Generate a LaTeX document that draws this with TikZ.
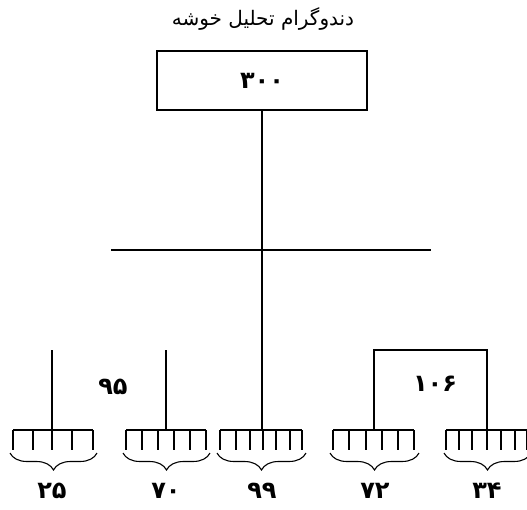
\documentclass[tikz,border=0pt]{standalone}
\usepackage{fontspec}
\newfontfamily\arabicfont[Script=Arabic]{DejaVu Sans}
\TeXXeTstate=1
\usetikzlibrary{decorations.pathreplacing}
\begin{document}
\begin{tikzpicture}[x=1pt,y=-1pt,
  ln/.style={line width=1.3pt},
  thin/.style={line width=1.1pt},
  num/.style={font=\arabicfont\bfseries\fontsize{24}{28}\selectfont, inner sep=0pt},
  brc/.style={line width=1.1pt, decorate, decoration={brace, mirror, amplitude=17pt}}]
\useasboundingbox (0,0) rectangle (527,509);
% title
\node[font=\arabicfont\fontsize{20}{24}\selectfont] (title) at (263,19) {\beginR دندوگرام تحلیل خوشه\endR};
% root box
\node[draw, line width=1.4pt, minimum width=210pt, minimum height=59pt, inner sep=0pt] (root) at (262,80.5) {};
\node[num] (rootlbl) at (262,81) {۳۰۰};
% horizontal cut line
\coordinate (hl) at (111,250);
\coordinate (hr) at (431,250);
\draw[ln] (hl) -- (hr);
% group 1
\coordinate (c1l) at (13,430); \coordinate (c1r) at (93,430);
\draw[thin] (c1l) -- (c1r);
\foreach \t in {13,33,52,72,93} \draw[thin] (\t,430) -- (\t,450);
\coordinate (s1t) at (52,350); \coordinate (s1b) at (52,430);
\draw[ln] (s1t) -- (s1b);
\coordinate (b1l) at (10,453); \coordinate (b1r) at (97,453);
\draw[brc] (b1l) -- (b1r);
\node[num] (l1) at (52,491) {۲۵};
% group 2
\coordinate (c2l) at (126,430); \coordinate (c2r) at (206,430);
\draw[thin] (c2l) -- (c2r);
\foreach \t in {126,142,158,174,190,206} \draw[thin] (\t,430) -- (\t,450);
\coordinate (s2t) at (166,350); \coordinate (s2b) at (166,430);
\draw[ln] (s2t) -- (s2b);
\coordinate (b2l) at (123,453); \coordinate (b2r) at (210,453);
\draw[brc] (b2l) -- (b2r);
\node[num] (l2) at (166,491) {۷۰};
% label 95
\node[num] (m95) at (113,387) {۹۵};
% group 3
\coordinate (c3l) at (220,430); \coordinate (c3r) at (302,430);
\draw[thin] (c3l) -- (c3r);
\foreach \t in {220,236,250,263,276,290,302} \draw[thin] (\t,430) -- (\t,450);
\coordinate (s3b) at (root.south |- c3l);
\draw[ln] (root.south) -- (s3b);
\coordinate (b3l) at (217,453); \coordinate (b3r) at (306,453);
\draw[brc] (b3l) -- (b3r);
\node[num] (l3) at (262,491) {۹۹};
% group 4
\coordinate (c4l) at (333,430); \coordinate (c4r) at (414,430);
\draw[thin] (c4l) -- (c4r);
\foreach \t in {333,349,366,382,398,414} \draw[thin] (\t,430) -- (\t,450);
\coordinate (b4l) at (330,453); \coordinate (b4r) at (419,453);
\draw[brc] (b4l) -- (b4r);
\node[num] (l4) at (375,491) {۷۲};
% group 5
\coordinate (c5l) at (446,430); \coordinate (c5r) at (530,430);
\draw[thin] (c5l) -- (c5r);
\foreach \t in {446,459,472,487,501,515,527} \draw[thin] (\t,430) -- (\t,450);
\coordinate (b5l) at (444,453); \coordinate (b5r) at (531,453);
\draw[brc] (b5l) -- (b5r);
\node[num] (l5) at (487,491) {۳۴};
% join of 4 and 5
\coordinate (s4b) at (374,430); \coordinate (s5b) at (487,430);
\draw[ln] (s4b) |- (430,350) -| (s5b);
\node[num] (m106) at (435,384) {۱۰۶};
\end{tikzpicture}
\end{document}
